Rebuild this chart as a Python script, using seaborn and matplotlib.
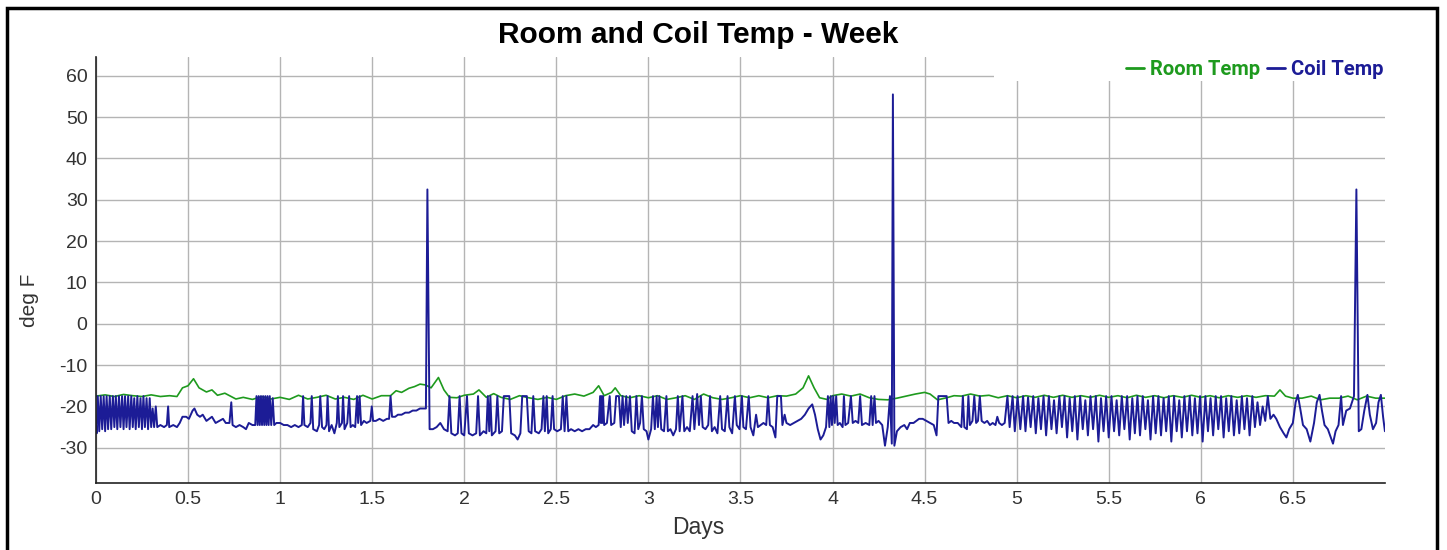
import pandas as pd
import matplotlib.pyplot as plt
import seaborn as sns
from matplotlib.patches import Rectangle

# ------------------------
# Data
# ------------------------
room_points = [
    (0.00, -17.5), (0.05, -17.2), (0.10, -17.6), (0.15, -17.1), (0.20, -17.4), (0.25, -17.6),
    (0.30, -17.2), (0.35, -17.6), (0.40, -17.4), (0.44, -17.6), (0.47, -15.5), (0.50, -15.0),
    (0.53, -13.3), (0.56, -15.5), (0.60, -16.5), (0.63, -16.0), (0.66, -17.3), (0.70, -16.8),
    (0.73, -17.5), (0.76, -18.2), (0.80, -17.8), (0.85, -18.3), (0.90, -17.6), (0.95, -18.2),
    (1.00, -17.8), (1.05, -18.3), (1.10, -17.3), (1.15, -18.2), (1.20, -17.8), (1.25, -17.3),
    (1.30, -18.2), (1.35, -17.8), (1.40, -18.3), (1.45, -17.3), (1.50, -18.2), (1.55, -17.4),
    (1.60, -17.4), (1.63, -16.2), (1.66, -16.6), (1.70, -15.6), (1.73, -15.2), (1.76, -14.6),
    (1.79, -14.8), (1.82, -15.5), (1.86, -13.0), (1.89, -16.0), (1.92, -17.8), (1.96, -17.9),
    (2.00, -17.3), (2.05, -17.0), (2.08, -16.0), (2.12, -17.8), (2.16, -16.9), (2.20, -17.8),
    (2.25, -18.3), (2.30, -17.4), (2.35, -17.9), (2.40, -18.3), (2.45, -17.8), (2.50, -18.3),
    (2.55, -17.4), (2.60, -17.0), (2.65, -17.5), (2.70, -16.6), (2.73, -15.0), (2.76, -17.4),
    (2.80, -16.6), (2.82, -15.5), (2.85, -17.4), (2.90, -17.9), (2.95, -17.4), (3.00, -17.9),
    (3.05, -17.4), (3.10, -18.3), (3.15, -17.9), (3.20, -17.4), (3.25, -18.3), (3.30, -17.0),
    (3.35, -17.9), (3.40, -18.3), (3.45, -17.9), (3.50, -17.4), (3.55, -17.9), (3.60, -17.4),
    (3.65, -17.9), (3.70, -17.4), (3.75, -17.5), (3.80, -17.0), (3.84, -15.5), (3.87, -12.6),
    (3.90, -15.5), (3.93, -17.9), (3.97, -18.3), (4.00, -17.4), (4.05, -17.0), (4.10, -17.5),
    (4.15, -17.0), (4.20, -17.9), (4.25, -18.3), (4.30, -18.4), (4.35, -18.0), (4.40, -17.5),
    (4.45, -17.0), (4.50, -16.6), (4.53, -17.0), (4.57, -18.4), (4.62, -17.9), (4.66, -17.4),
    (4.70, -17.5), (4.75, -17.0), (4.80, -17.5), (4.85, -17.3), (4.90, -17.9), (4.95, -17.4),
    (5.00, -17.9), (5.05, -17.4), (5.10, -17.8), (5.15, -17.3), (5.20, -17.8), (5.25, -17.3),
    (5.30, -17.8), (5.35, -17.4), (5.40, -17.8), (5.45, -17.3), (5.50, -17.8), (5.55, -17.4),
    (5.60, -17.9), (5.65, -17.3), (5.70, -17.8), (5.75, -17.4), (5.80, -17.9), (5.85, -17.4),
    (5.90, -17.8), (5.95, -17.3), (6.00, -17.8), (6.05, -17.4), (6.10, -17.9), (6.15, -17.4),
    (6.20, -17.8), (6.25, -17.4), (6.30, -17.8), (6.35, -17.4), (6.40, -17.5), (6.43, -16.0),
    (6.46, -17.5), (6.50, -18.0), (6.55, -18.0), (6.60, -17.5), (6.65, -18.4), (6.70, -18.0),
    (6.75, -18.0), (6.80, -17.5), (6.85, -18.4), (6.90, -17.5), (6.95, -18.0), (7.00, -18.0),
]

coil_day0 = [
    (0.000, -24.0), (0.004, -26.5), (0.010, -17.5), (0.018, -26.0), (0.026, -17.5), (0.034, -25.5),
    (0.042, -17.5), (0.050, -26.0), (0.058, -17.5), (0.066, -25.5), (0.075, -17.5), (0.083, -25.5),
    (0.092, -17.5), (0.100, -25.0), (0.108, -17.5), (0.116, -25.5), (0.125, -17.5), (0.133, -25.0),
    (0.142, -17.5), (0.150, -25.5), (0.158, -17.5), (0.166, -25.0), (0.175, -17.5), (0.183, -25.5),
    (0.192, -17.5), (0.200, -25.0), (0.208, -18.0), (0.216, -25.5), (0.225, -17.5), (0.233, -25.0),
    (0.242, -18.0), (0.250, -25.5), (0.258, -17.5), (0.266, -25.0), (0.275, -18.0), (0.283, -25.5),
    (0.292, -18.0), (0.300, -25.0), (0.308, -20.5), (0.316, -25.0), (0.325, -20.0), (0.333, -25.0),
    (0.350, -24.5), (0.370, -25.0), (0.385, -24.5), (0.392, -20.0), (0.398, -25.0), (0.420, -24.5),
    (0.440, -25.0), (0.455, -24.0), (0.470, -22.5), (0.490, -22.5), (0.505, -23.0), (0.525, -21.0),
    (0.535, -20.5), (0.550, -22.0), (0.565, -22.5), (0.580, -22.0), (0.600, -23.5), (0.615, -23.0),
    (0.630, -22.5), (0.650, -24.0), (0.670, -23.5), (0.690, -23.0), (0.705, -24.0), (0.725, -24.0),
    (0.735, -19.0), (0.742, -24.5), (0.760, -25.0), (0.780, -24.5), (0.800, -25.0), (0.815, -25.5),
    (0.830, -24.0), (0.850, -24.5), (0.865, -24.5), (0.872, -17.5), (0.878, -24.5), (0.884, -17.5),
    (0.890, -24.5), (0.896, -17.5), (0.902, -24.5), (0.908, -17.5), (0.914, -24.5), (0.920, -17.5),
    (0.926, -24.5), (0.932, -17.5), (0.938, -24.5), (0.944, -17.5), (0.952, -24.5), (0.960, -18.0),
    (0.968, -24.5), (0.980, -24.0), (1.000, -24.0),
]

coil_day1 = [
    (1.020, -24.5), (1.040, -24.5), (1.060, -25.0), (1.080, -24.5), (1.100, -25.0), (1.118, -24.5),
    (1.125, -17.5), (1.132, -24.5), (1.150, -25.0), (1.165, -24.0), (1.172, -17.5), (1.180, -25.5),
    (1.200, -26.0), (1.212, -24.5), (1.218, -17.5), (1.228, -25.0), (1.240, -25.5), (1.252, -24.5),
    (1.258, -17.5), (1.266, -26.0), (1.280, -24.5), (1.295, -26.5), (1.308, -24.0), (1.314, -17.5),
    (1.322, -25.0), (1.336, -24.0), (1.342, -17.5), (1.350, -25.5), (1.365, -24.0), (1.375, -17.5),
    (1.383, -25.0), (1.395, -24.5), (1.408, -25.0), (1.418, -17.5), (1.424, -24.0), (1.432, -17.5),
    (1.440, -24.5), (1.455, -23.5), (1.470, -24.0), (1.490, -23.5), (1.498, -20.0), (1.505, -23.5),
    (1.520, -23.5), (1.540, -23.0), (1.560, -23.5), (1.580, -23.0), (1.592, -23.0), (1.600, -17.5),
    (1.608, -22.5), (1.625, -22.5), (1.640, -22.0), (1.660, -22.0), (1.680, -21.5), (1.700, -21.5),
    (1.720, -21.0), (1.740, -21.0), (1.760, -20.5), (1.780, -20.5), (1.792, -20.5), (1.800, 32.5),
    (1.812, -25.5), (1.830, -25.5), (1.850, -25.0), (1.870, -24.0), (1.890, -25.5), (1.910, -26.0),
    (1.920, -17.5), (1.930, -26.5), (1.950, -27.0), (1.965, -26.5), (1.975, -17.5), (1.985, -26.5),
    (2.000, -27.0),
]

coil_day2 = [
    (2.015, -17.5), (2.025, -26.5), (2.045, -27.0), (2.065, -26.5), (2.075, -17.5), (2.085, -27.0),
    (2.105, -26.0), (2.120, -26.5), (2.128, -17.5), (2.136, -26.0), (2.142, -17.5), (2.150, -27.0),
    (2.170, -26.0), (2.180, -17.5), (2.190, -26.5), (2.205, -26.0), (2.215, -17.5), (2.245, -17.5),
    (2.255, -26.5), (2.275, -27.0), (2.290, -28.0), (2.305, -26.5), (2.315, -17.5), (2.340, -17.5),
    (2.350, -26.0), (2.365, -26.5), (2.375, -17.5), (2.385, -26.0), (2.405, -26.5), (2.420, -25.5),
    (2.430, -17.5), (2.438, -26.0), (2.448, -17.5), (2.456, -26.5), (2.470, -25.5), (2.480, -17.5),
    (2.488, -25.5), (2.505, -26.0), (2.525, -25.5), (2.535, -17.5), (2.545, -26.0), (2.555, -17.5),
    (2.565, -26.0), (2.580, -25.5), (2.600, -26.0), (2.620, -25.5), (2.640, -26.0), (2.660, -25.5),
    (2.680, -25.5), (2.700, -24.5), (2.715, -25.0), (2.730, -24.5), (2.738, -17.5), (2.742, -24.0),
    (2.746, -17.5), (2.750, -24.0), (2.754, -17.5), (2.760, -24.5), (2.775, -24.0), (2.790, -17.5),
    (2.798, -24.5), (2.815, -24.0), (2.825, -17.5), (2.840, -17.5), (2.850, -25.0), (2.860, -17.5),
    (2.868, -24.5), (2.880, -17.5), (2.888, -24.0), (2.900, -17.5), (2.910, -26.0), (2.925, -26.5),
    (2.935, -17.5), (2.945, -25.5), (2.955, -24.0), (2.965, -17.5), (2.975, -25.5), (2.990, -26.0),
    (3.000, -28.0),
]

coil_day3 = [
    (3.015, -25.5), (3.025, -17.5), (3.035, -25.5), (3.045, -17.5), (3.052, -25.0), (3.060, -17.5),
    (3.070, -25.5), (3.085, -26.0), (3.098, -17.5), (3.106, -26.0), (3.120, -25.5), (3.135, -27.0),
    (3.150, -25.5), (3.160, -17.5), (3.170, -26.0), (3.185, -17.5), (3.195, -26.0), (3.210, -25.0),
    (3.225, -26.0), (3.240, -17.5), (3.250, -25.5), (3.265, -17.0), (3.275, -24.5), (3.285, -17.5),
    (3.295, -25.0), (3.310, -25.5), (3.325, -24.5), (3.335, -17.5), (3.345, -26.0), (3.360, -25.0),
    (3.375, -26.5), (3.390, -17.5), (3.400, -25.5), (3.415, -26.0), (3.430, -17.5), (3.440, -25.0),
    (3.455, -26.5), (3.470, -17.5), (3.480, -24.5), (3.495, -25.5), (3.508, -17.5), (3.516, -25.0),
    (3.530, -25.5), (3.545, -17.5), (3.555, -25.0), (3.570, -27.0), (3.585, -22.0), (3.595, -25.0),
    (3.610, -24.5), (3.625, -24.0), (3.640, -24.5), (3.650, -17.5), (3.660, -24.5), (3.675, -25.0),
    (3.690, -27.5), (3.700, -17.5), (3.720, -17.5), (3.728, -24.5), (3.740, -22.0), (3.750, -24.0),
    (3.770, -24.5), (3.790, -24.0), (3.810, -23.5), (3.830, -23.0), (3.850, -22.0), (3.870, -20.5),
    (3.890, -19.5), (3.905, -22.0), (3.920, -25.5), (3.935, -28.0), (3.950, -27.0), (3.965, -25.0),
    (3.975, -17.5), (3.983, -25.0), (3.990, -17.5), (3.997, -24.5), (4.004, -17.5), (4.012, -24.0),
]

coil_day4 = [
    (4.020, -17.5), (4.028, -24.5), (4.040, -24.0), (4.055, -25.0), (4.062, -17.5), (4.070, -24.5),
    (4.085, -24.0), (4.100, -17.5), (4.110, -24.0), (4.125, -23.5), (4.140, -24.0), (4.150, -17.5),
    (4.160, -24.5), (4.180, -24.0), (4.200, -24.5), (4.210, -17.5), (4.218, -24.5), (4.228, -17.5),
    (4.236, -24.0), (4.250, -23.5), (4.270, -24.5), (4.285, -29.5), (4.300, -25.0), (4.312, -17.5),
    (4.322, -29.0), (4.328, 55.5), (4.336, -29.5), (4.350, -26.0), (4.370, -25.0), (4.390, -24.5),
    (4.405, -25.5), (4.420, -24.0), (4.440, -24.0), (4.455, -23.5), (4.470, -23.0), (4.490, -23.0),
    (4.510, -23.5), (4.530, -24.0), (4.550, -24.5), (4.565, -27.0), (4.575, -17.5), (4.620, -17.5),
    (4.630, -24.0), (4.645, -23.5), (4.660, -24.0), (4.680, -24.0), (4.700, -25.0), (4.708, -17.5),
    (4.716, -25.0), (4.730, -25.5), (4.738, -17.5), (4.746, -24.5), (4.760, -23.5), (4.770, -17.5),
    (4.780, -24.0), (4.790, -23.5), (4.800, -17.5), (4.810, -23.5), (4.825, -24.0), (4.840, -23.5),
    (4.855, -24.5), (4.870, -24.0), (4.885, -24.5), (4.895, -22.5), (4.905, -24.0), (4.920, -24.5),
    (4.935, -24.0), (4.950, -17.5), (4.962, -25.0), (4.978, -17.5), (4.990, -26.0),
]

coil_day5 = [
    (5.005, -17.5), (5.020, -25.5), (5.035, -17.5), (5.048, -26.0), (5.062, -17.8), (5.076, -25.0),
    (5.090, -17.5), (5.104, -26.5), (5.118, -18.0), (5.132, -25.5), (5.146, -17.5), (5.160, -27.0),
    (5.175, -17.5), (5.189, -25.5), (5.203, -18.5), (5.217, -26.5), (5.232, -17.5), (5.246, -25.0),
    (5.260, -17.5), (5.274, -27.5), (5.288, -18.0), (5.302, -26.0), (5.316, -17.5), (5.330, -28.0),
    (5.345, -17.5), (5.359, -25.5), (5.373, -18.5), (5.387, -27.0), (5.401, -17.5), (5.415, -25.5),
    (5.430, -17.5), (5.444, -28.5), (5.458, -18.0), (5.472, -26.0), (5.486, -17.5), (5.500, -27.5),
    (5.515, -17.5), (5.529, -26.0), (5.543, -18.5), (5.557, -27.0), (5.571, -17.5), (5.585, -25.5),
    (5.600, -17.5), (5.614, -28.0), (5.628, -18.0), (5.642, -26.5), (5.656, -17.5), (5.670, -27.0),
    (5.685, -17.5), (5.699, -25.5), (5.713, -18.5), (5.727, -28.0), (5.741, -17.5), (5.755, -26.5),
    (5.770, -17.5), (5.784, -27.0), (5.798, -18.0), (5.812, -26.0), (5.826, -17.5), (5.840, -28.5),
    (5.855, -17.5), (5.869, -26.0), (5.883, -18.5), (5.897, -27.5), (5.911, -17.5), (5.925, -26.0),
    (5.940, -17.5), (5.954, -27.0), (5.968, -18.0), (5.982, -26.5), (5.996, -17.5),
]

coil_day6 = [
    (6.010, -28.5), (6.025, -17.5), (6.039, -26.0), (6.053, -18.0), (6.067, -27.0), (6.081, -17.5),
    (6.095, -25.5), (6.110, -17.5), (6.124, -27.5), (6.138, -18.0), (6.152, -26.0), (6.166, -17.5),
    (6.180, -27.0), (6.195, -18.5), (6.209, -26.5), (6.223, -17.5), (6.237, -25.5), (6.251, -18.0),
    (6.265, -27.0), (6.280, -17.5), (6.294, -25.0), (6.308, -19.0), (6.322, -24.5), (6.336, -20.0),
    (6.350, -23.5), (6.364, -17.5), (6.378, -23.0), (6.395, -22.0), (6.410, -23.0), (6.430, -25.0),
    (6.450, -26.5), (6.465, -27.5), (6.480, -25.5), (6.500, -24.0), (6.515, -19.0), (6.527, -17.2),
    (6.540, -20.5), (6.555, -24.5), (6.575, -25.5), (6.595, -28.5), (6.615, -24.0), (6.630, -19.0),
    (6.645, -17.2), (6.658, -21.0), (6.672, -24.5), (6.690, -25.5), (6.718, -29.0), (6.732, -26.0),
    (6.748, -24.5), (6.762, -17.5), (6.772, -24.5), (6.790, -21.0), (6.810, -20.5), (6.832, -17.5),
    (6.845, 32.5), (6.858, -26.0), (6.872, -25.5), (6.888, -21.0), (6.905, -17.2), (6.918, -22.0),
    (6.935, -25.5), (6.952, -24.0), (6.965, -19.0), (6.978, -17.2), (6.990, -22.5), (7.000, -26.0),
]

x_ticks = [0, 0.5, 1, 1.5, 2, 2.5, 3, 3.5, 4, 4.5, 5, 5.5, 6, 6.5]
x_tick_labels = ["0", "0.5", "1", "1.5", "2", "2.5", "3", "3.5", "4", "4.5", "5", "5.5", "6", "6.5"]
y_ticks = [-30, -20, -10, 0, 10, 20, 30, 40, 50, 60]

room = pd.DataFrame(room_points, columns=["days", "temp"])
coil = pd.DataFrame(
    coil_day0 + coil_day1 + coil_day2 + coil_day3 + coil_day4 + coil_day5 + coil_day6,
    columns=["days", "temp"],
)

# ------------------------
# Plot
# ------------------------
sns.set_style("whitegrid", {"grid.color": "#b4b4b4", "axes.edgecolor": "#333333"})
plt.rcParams["font.family"] = ["Liberation Sans", "DejaVu Sans"]
plt.rcParams["axes.unicode_minus"] = False

room_color = "#1e9a1e"
coil_color = "#1c1c96"

fig = plt.figure(figsize=(14.47, 5.5), dpi=100)
ax = fig.add_axes([0.0663, 0.122, 0.8908, 0.774])

sns.lineplot(data=room, x="days", y="temp", color=room_color, linewidth=1.2,
             label="Room Temp", ax=ax, estimator=None, sort=False)
sns.lineplot(data=coil, x="days", y="temp", color=coil_color, linewidth=1.4,
             label="Coil Temp", ax=ax, estimator=None, sort=False)

ax.set_xlim(0, 7)
ax.set_ylim(-38.5, 64.5)
ax.set_xticks(x_ticks)
ax.set_xticklabels(x_tick_labels)
ax.set_yticks(y_ticks)
ax.tick_params(axis="both", labelsize=14, colors="#333333", length=0, pad=6)
ax.grid(True, color="#b4b4b4", linewidth=1.0)

for side in ["top", "right"]:
    ax.spines[side].set_visible(False)
for side in ["left", "bottom"]:
    ax.spines[side].set_color("#222222")
    ax.spines[side].set_linewidth(1.2)

ax.set_title("Room and Coil Temp - Week", fontsize=21.5, fontweight="bold",
             color="black", pad=10, x=0.467)
ax.set_xlabel("Days", fontsize=16.5, color="#333333")
ax.xaxis.set_label_coords(0.467, -0.078)
ax.set_ylabel("deg F", fontsize=15, color="#333333")
ax.yaxis.set_label_coords(-0.044, 0.43)

# white band behind the legend (covers the top grid line like the original)
ax.add_patch(Rectangle((0.697, 0.945), 0.303, 0.06, transform=ax.transAxes,
                       facecolor="white", edgecolor="none", zorder=2.5, clip_on=False))

leg = ax.legend(loc="upper right", bbox_to_anchor=(1.005, 1.012), ncol=2, frameon=False,
                handlelength=0.9, handletextpad=0.3, columnspacing=0.3,
                borderaxespad=0.0, prop={"family": "Roboto", "size": 14.5, "weight": "bold"})
for text, col in zip(leg.get_texts(), [room_color, coil_color]):
    text.set_color(col)
for line in leg.get_lines():
    line.set_linewidth(2)
leg.set_zorder(5)

# black frame around the picture
fig.add_artist(Rectangle((0.005, -0.05), 0.988, 1.035, transform=fig.transFigure,
                         fill=False, edgecolor="black", linewidth=2.5))

plt.savefig("out.png", dpi=100)
